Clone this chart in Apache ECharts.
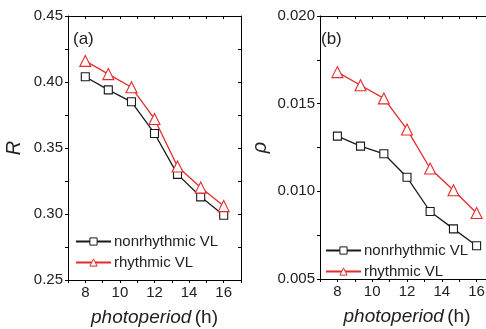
<!DOCTYPE html>
<html>
<head>
<meta charset="utf-8">
<script src="https://cdn.jsdelivr.net/npm/echarts@6/dist/echarts.min.js"></script>
<style>
html,body{margin:0;padding:0;background:#fff;}
#chart{width:486px;height:329px;}
</style>
</head>
<body>
<div id="chart"></div>
<script>
// ---- data ----
var photoperiod = [8, 9.33, 10.67, 12, 13.33, 14.67, 16];
var R_nonrhythmic = [0.404, 0.394, 0.385, 0.361, 0.330, 0.313, 0.299];
var R_rhythmic = [0.416, 0.406, 0.396, 0.372, 0.336, 0.320, 0.306];
var rho_nonrhythmic = [0.01315, 0.01258, 0.01214, 0.0108, 0.00885, 0.00786, 0.0069];
var rho_rhythmic = [0.0168, 0.01605, 0.0153, 0.01353, 0.0113, 0.01006, 0.00876];
var seriesNames = ['nonrhythmic VL', 'rhythmic VL'];
var panelLabels = ['(a)', '(b)'];

function pairs(xs, ys) { return xs.map(function (x, i) { return [x, ys[i]]; }); }

var FONT = 'Liberation Sans, Arial, sans-serif';
var TXT = '#222';
var RED = '#e52a2a';

function xAxisPair(gridIndex) {
  var base = {
    type: 'value', gridIndex: gridIndex, min: 7, max: 17, interval: 1,
    axisLine: { show: true, onZero: false, lineStyle: { color: '#000', width: 1 } },
    splitLine: { show: false }
  };
  return [
    Object.assign({}, base, {
      position: 'bottom',
      axisTick: { show: true, inside: false, length: 3, lineStyle: { color: '#000' } },
      axisLabel: {
        show: true, color: TXT, fontSize: 15, fontFamily: FONT, margin: 5,
        formatter: function (v) { return (Math.round(v) % 2 === 0) ? String(Math.round(v)) : ''; }
      },
      name: '{i|photoperiod} {n|(h)}',
      nameLocation: 'middle', nameGap: 28,
      nameTextStyle: {
        rich: {
          i: { fontStyle: 'italic', fontSize: 19, fontFamily: FONT, color: TXT },
          n: { fontSize: 19, fontFamily: FONT, color: TXT }
        }
      }
    }),
    Object.assign({}, base, {
      position: 'top',
      axisTick: { show: true, inside: true, length: 3, lineStyle: { color: '#000' } },
      axisLabel: { show: false }
    })
  ];
}

function yAxisPair(gridIndex, min, max, interval, decimals, name, nameGap) {
  var base = {
    type: 'value', gridIndex: gridIndex, min: min, max: max, interval: interval,
    axisLine: { show: true, onZero: false, lineStyle: { color: '#000', width: 1 } },
    splitLine: { show: false },
    minorSplitLine: { show: false }
  };
  return [
    Object.assign({}, base, {
      position: 'left',
      axisTick: { show: true, inside: false, length: 3, lineStyle: { color: '#000' } },
      minorTick: { show: true, splitNumber: 2, length: 3, lineStyle: { color: '#000' } },
      axisLabel: {
        show: true, color: TXT, fontSize: 15, fontFamily: FONT, margin: 5,
        formatter: function (v) { return v.toFixed(decimals); }
      },
      name: name, nameLocation: 'middle', nameGap: nameGap,
      nameTextStyle: { fontStyle: 'italic', fontSize: 20, fontFamily: FONT, color: TXT }
    }),
    Object.assign({}, base, {
      position: 'right',
      axisTick: { show: true, inside: true, length: 3, lineStyle: { color: '#000' } },
      minorTick: { show: true, splitNumber: 2, length: 3, lineStyle: { color: '#000' } },
      axisLabel: { show: false }
    })
  ];
}

function lineSeries(name, xIdx, yIdx, data, color, symbol, size) {
  return {
    type: 'line', name: name, xAxisIndex: xIdx, yAxisIndex: yIdx,
    data: data, symbol: symbol, symbolSize: size, showAllSymbol: true,
    lineStyle: { color: color, width: 1.3 },
    itemStyle: { color: '#fff', borderColor: color, borderWidth: 1.1 },
    emphasis: { disabled: true },
    animation: false
  };
}

function legendAt(left, top) {
  return {
    data: seriesNames, left: left, top: top, orient: 'vertical', itemGap: 6,
    itemWidth: 35, itemHeight: 9, padding: 0,
    itemStyle: { borderWidth: 1 },
    textStyle: { fontSize: 15, fontFamily: FONT, color: TXT, padding: [0, 0, 0, -2] }
  };
}

var option = {
  backgroundColor: '#fff',
  animation: false,
  title: [
    { text: panelLabels[0], left: 73, top: 31, padding: 0,
      textStyle: { fontSize: 17, fontWeight: 'normal', fontFamily: FONT, color: TXT } },
    { text: panelLabels[1], left: 321, top: 31, padding: 0,
      textStyle: { fontSize: 17, fontWeight: 'normal', fontFamily: FONT, color: TXT } }
  ],
  grid: [
    { left: 68, top: 16, width: 173, height: 264, outerBoundsMode: 'none', containLabel: false },
    { left: 320, top: 16, width: 174, height: 263, outerBoundsMode: 'none', containLabel: false }
  ],
  xAxis: xAxisPair(0).concat(xAxisPair(1)),
  yAxis: yAxisPair(0, 0.25, 0.45, 0.05, 2, 'R', 44)
    .concat(yAxisPair(1, 0.005, 0.020, 0.005, 3, 'ρ', 50)),
  legend: [legendAt(75, 234), legendAt(325, 243)],
  series: [
    lineSeries(seriesNames[0], 0, 0, pairs(photoperiod, R_nonrhythmic), '#1a1a1a', 'rect', 8),
    lineSeries(seriesNames[1], 0, 0, pairs(photoperiod, R_rhythmic), RED, 'triangle', 11),
    lineSeries(seriesNames[0], 2, 2, pairs(photoperiod, rho_nonrhythmic), '#1a1a1a', 'rect', 8),
    lineSeries(seriesNames[1], 2, 2, pairs(photoperiod, rho_rhythmic), RED, 'triangle', 11)
  ]
};

var chart = echarts.init(document.getElementById('chart'), null, { renderer: 'canvas' });
chart.setOption(option);
</script>
</body>
</html>
